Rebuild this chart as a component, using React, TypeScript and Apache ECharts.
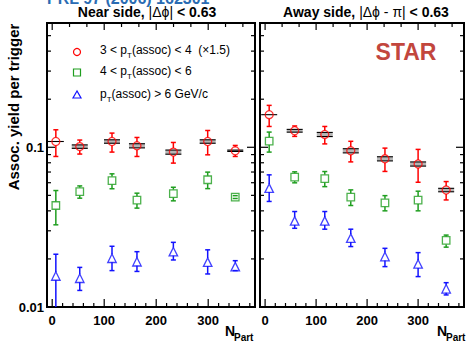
import React, { useEffect, useRef } from "react";
import * as echarts from "echarts";

// Centrality (N_part) of each bin, per panel
const nearNpart = [7, 53, 115, 163, 233, 299, 352];
const awayNpart = [8, 58, 117, 168, 235, 300, 355];

// Near side yields
const near34 = [0.1087, 0.101, 0.1087, 0.1022, 0.0933, 0.1087, 0.0951];
const near34Lo = [0.0876, 0.0907, 0.0933, 0.0876, 0.0796, 0.0897, 0.0876];
const near34Hi = [0.1287, 0.111, 0.1227, 0.1152, 0.1072, 0.1274, 0.1027];
const near34Sys = [0, 0.025, 0.025, 0.03, 0.03, 0.025, 0.01];

const near46 = [0.0432, 0.0528, 0.0619, 0.0467, 0.0513, 0.0626, 0.0488];
const near46Lo = [0.0327, 0.048, 0.055, 0.0416, 0.0462, 0.0551, 0.0478];
const near46Hi = [0.0536, 0.0573, 0.0682, 0.0516, 0.0562, 0.0699, 0.0498];

const near6 = [0.01564, 0.01514, 0.0202, 0.0192, 0.0222, 0.0191, 0.0179];
const near6Lo = [0.0098, 0.0127, 0.0169, 0.0167, 0.0197, 0.0161, 0.0169];
const near6Hi = [0.0214, 0.0177, 0.024, 0.0222, 0.0254, 0.0228, 0.0195];

// Away side yields
const away34 = [0.16, 0.1269, 0.1203, 0.0951, 0.0847, 0.0786, 0.054];
const away34Lo = [0.135, 0.117, 0.105, 0.081, 0.0706, 0.0604, 0.0468];
const away34Hi = [0.183, 0.136, 0.135, 0.109, 0.0988, 0.097, 0.061];
const away34Sys = [0, 0.02, 0.03, 0.03, 0.03, 0.03, 0.025];

const away46 = [0.1094, 0.065, 0.0637, 0.0487, 0.0449, 0.0467, 0.0261];
const away46Lo = [0.0933, 0.0599, 0.0567, 0.0432, 0.04, 0.04, 0.0237];
const away46Hi = [0.1245, 0.0702, 0.0705, 0.0541, 0.0498, 0.0531, 0.0282];

const away6 = [0.0555, 0.0346, 0.0346, 0.027, 0.0207, 0.0186, 0.013];
const away6Lo = [0.0458, 0.0311, 0.0307, 0.0239, 0.0179, 0.0155, 0.0119];
const away6Hi = [0.0672, 0.0396, 0.0396, 0.0307, 0.0233, 0.0219, 0.0142];

const xTickLabels = ["0", "100", "200", "300"];
const yTickLabels = ["0.01", "0.1"];

const RED = "#ff0000";
const GREEN = "#1f9e1f";
const BLUE = "#1212ff";
const FONT = "'Liberation Sans', Arial, Helvetica, sans-serif";

const X_MIN = -10;
const X_MAX = 390;
const Y_MIN = 0.01;
const Y_MAX = 0.6;

function markerSeries(g: number, xs: number[], ys: number[], symbol: string, size: number, color: string) {
  return {
    type: "scatter",
    xAxisIndex: g,
    yAxisIndex: g,
    silent: true,
    z: 5,
    symbol,
    symbolSize: size,
    itemStyle: { color: "rgba(0,0,0,0)", borderColor: color, borderWidth: 1.3 },
    data: xs.map((x, i) => [x, ys[i]]),
  };
}

function errorSeries(g: number, xs: number[], ys: number[], lo: number[], hi: number[], color: string, gap: number) {
  return {
    type: "custom",
    xAxisIndex: g,
    yAxisIndex: g,
    silent: true,
    clip: true,
    z: 4,
    data: xs.map((x, i) => [x, ys[i], lo[i], hi[i]]),
    renderItem: (_params: any, api: any) => {
      const x = api.value(0);
      const c = api.coord([x, api.value(1)]);
      const l = api.coord([x, api.value(2)]);
      const h = api.coord([x, api.value(3)]);
      const st = { stroke: color, lineWidth: 1.5 };
      const kids: any[] = [];
      if (h[1] < c[1] - gap) kids.push({ type: "line", shape: { x1: c[0], y1: h[1], x2: c[0], y2: c[1] - gap }, style: st });
      if (l[1] > c[1] + gap) kids.push({ type: "line", shape: { x1: c[0], y1: c[1] + gap, x2: c[0], y2: l[1] }, style: st });
      kids.push({ type: "line", shape: { x1: c[0] - 2.5, y1: h[1], x2: c[0] + 2.5, y2: h[1] }, style: st });
      kids.push({ type: "line", shape: { x1: c[0] - 2.5, y1: l[1], x2: c[0] + 2.5, y2: l[1] }, style: st });
      return { type: "group", children: kids };
    },
  };
}

function sysSeries(g: number, xs: number[], ys: number[], sys: number[]) {
  return {
    type: "custom",
    xAxisIndex: g,
    yAxisIndex: g,
    silent: true,
    clip: true,
    z: 3,
    data: xs.map((x, i) => [x, ys[i], sys[i]]),
    renderItem: (_params: any, api: any) => {
      const x = api.value(0);
      const v = api.value(1);
      const s = api.value(2);
      const top = api.coord([x, v * (1 + s)]);
      const bot = api.coord([x, v * (1 - s)]);
      const hw = 8;
      const line = { stroke: "#000", lineWidth: 1.1 };
      if (s === 0) {
        return { type: "line", shape: { x1: top[0] - hw, y1: top[1], x2: top[0] + hw, y2: top[1] }, style: line };
      }
      return {
        type: "group",
        children: [
          { type: "rect", shape: { x: top[0] - hw, y: top[1], width: hw * 2, height: bot[1] - top[1] }, style: { fill: "rgba(120,120,120,0.55)" } },
          { type: "line", shape: { x1: top[0] - hw, y1: top[1], x2: top[0] + hw, y2: top[1] }, style: line },
          { type: "line", shape: { x1: bot[0] - hw, y1: bot[1], x2: bot[0] + hw, y2: bot[1] }, style: line },
        ],
      };
    },
  };
}

// Frame ticks on all four sides of a panel
function tickSeries(g: number) {
  const yTicks: [number, boolean][] = [];
  for (const dec of [0.01, 0.1]) {
    for (let m = 1; m <= 9; m++) {
      const v = +(m * dec).toFixed(4);
      if (v <= Y_MAX + 1e-9) yTicks.push([v, m === 1]);
    }
  }
  const xBottom: [number, boolean][] = [];
  for (let v = 0; v <= 380; v += 20) xBottom.push([v, v % 100 === 0]);
  const xTop: [number, boolean][] = [];
  for (let k = 0; k * (100 / 3) <= X_MAX; k++) xTop.push([k * (100 / 3), k % 3 === 0]);
  return {
    type: "custom",
    xAxisIndex: g,
    yAxisIndex: g,
    silent: true,
    clip: false,
    z: 2,
    data: [[0, 0.1]],
    renderItem: (params: any, api: any) => {
      const cs = params.coordSys;
      const left = cs.x;
      const right = cs.x + cs.width;
      const topY = cs.y;
      const botY = cs.y + cs.height;
      const st = { stroke: "#000", lineWidth: 1.2 };
      const kids: any[] = [];
      for (const [v, major] of yTicks) {
        const y = api.coord([0, v])[1];
        const len = major ? 8 : 4;
        kids.push({ type: "line", shape: { x1: left, y1: y, x2: left + len, y2: y }, style: st });
        kids.push({ type: "line", shape: { x1: right, y1: y, x2: right - len, y2: y }, style: st });
      }
      for (const [v, major] of xBottom) {
        const x = api.coord([v, Y_MIN])[0];
        const len = major ? 8 : 4;
        kids.push({ type: "line", shape: { x1: x, y1: botY, x2: x, y2: botY - len }, style: st });
      }
      for (const [v, major] of xTop) {
        const x = api.coord([v, Y_MIN])[0];
        const len = major ? 7 : 4;
        kids.push({ type: "line", shape: { x1: x, y1: topY, x2: x, y2: topY + len }, style: st });
      }
      return { type: "group", children: kids };
    },
  };
}

function subLabel(text: string, sub: string, rest: string) {
  return `{n|${text}}{s|${sub}}{n|${rest}}`;
}

export default function App() {
  const ref = useRef<HTMLDivElement>(null);

  useEffect(() => {
    if (!ref.current) return;
    const chart = echarts.init(ref.current, undefined, { renderer: "svg" });

    const grids = [
      { left: 47, top: 23, width: 208, height: 284 },
      { left: 260, top: 23, width: 208, height: 284 },
    ].map((g) => ({ ...g, show: true, borderColor: "#000", borderWidth: 2, backgroundColor: "transparent" }));

    const xAxis = [0, 1].map((g) => ({
      type: "value",
      gridIndex: g,
      min: X_MIN,
      max: X_MAX,
      splitNumber: 4,
      axisLine: { show: false },
      axisTick: { show: false },
      splitLine: { show: false },
      axisLabel: {
        margin: 7,
        color: "#000",
        fontFamily: FONT,
        fontWeight: "bold",
        fontSize: 13,
        showMinLabel: true,
        showMaxLabel: true,
        formatter: (v: number) => {
          const s = String(Math.round(v));
          return Math.abs(v - Math.round(v)) < 1e-6 && xTickLabels.includes(s) ? s : "";
        },
      },
    }));

    const yAxis = [0, 1].map((g) => ({
      type: "log",
      logBase: 10,
      gridIndex: g,
      min: Y_MIN,
      max: Y_MAX,
      axisLine: { show: false },
      axisTick: { show: false },
      splitLine: { show: false },
      axisLabel: {
        show: g === 0,
        margin: 3,
        color: "#000",
        fontFamily: FONT,
        fontWeight: "bold",
        fontSize: 13,
        formatter: (v: number) => {
          const e = Math.log10(v);
          if (Math.abs(e - Math.round(e)) > 1e-6) return "";
          const idx = Math.round(e) + 2;
          return yTickLabels[idx] ?? "";
        },
      },
    }));

    const series: any[] = [
      tickSeries(0),
      tickSeries(1),
      sysSeries(0, nearNpart, near34, near34Sys),
      sysSeries(1, awayNpart, away34, away34Sys),
      errorSeries(0, nearNpart, near34, near34Lo, near34Hi, RED, 4),
      errorSeries(0, nearNpart, near46, near46Lo, near46Hi, GREEN, 4),
      errorSeries(0, nearNpart, near6, near6Lo, near6Hi, BLUE, 4),
      errorSeries(1, awayNpart, away34, away34Lo, away34Hi, RED, 4),
      errorSeries(1, awayNpart, away46, away46Lo, away46Hi, GREEN, 4),
      errorSeries(1, awayNpart, away6, away6Lo, away6Hi, BLUE, 4),
      markerSeries(0, nearNpart, near34, "circle", 8, RED),
      markerSeries(0, nearNpart, near46, "rect", 7.5, GREEN),
      markerSeries(0, nearNpart, near6, "triangle", 8.5, BLUE),
      markerSeries(1, awayNpart, away34, "circle", 8, RED),
      markerSeries(1, awayNpart, away46, "rect", 7.5, GREEN),
      markerSeries(1, awayNpart, away6, "triangle", 8.5, BLUE),
    ];

    const legendRich = {
      n: { fontSize: 12, lineHeight: 16, fontFamily: FONT, color: "#000" },
      s: { fontSize: 8, lineHeight: 8, padding: [11, 0, 0, 0], fontFamily: FONT, color: "#000" },
    };
    const titleRich = {
      b: { fontSize: 14, fontWeight: "bold", fontFamily: FONT, color: "#000" },
      g: { fontSize: 14, fontWeight: "normal", fontFamily: FONT, color: "#000" },
    };

    const graphic: any[] = [
      {
        type: "text",
        x: 47,
        y: -2,
        style: { text: "PRL 97 (2006) 162301", fill: "#2a6cb3", font: `bold 16px ${FONT}`, verticalAlign: "middle" },
      },
      {
        type: "text",
        x: 147,
        y: 12,
        style: { text: "{b|Near side, }{g||Δϕ|}{b| < 0.63}", rich: titleRich, align: "center", verticalAlign: "middle" },
      },
      {
        type: "text",
        x: 366,
        y: 12,
        style: { text: "{b|Away side, }{g||Δϕ - π|}{b| < 0.63}", rich: titleRich, align: "center", verticalAlign: "middle" },
      },
      {
        type: "text",
        x: 13,
        y: 107,
        rotation: Math.PI / 2,
        style: { text: "Assoc. yield per trigger", fill: "#000", font: `bold 15px ${FONT}`, align: "center", verticalAlign: "middle" },
      },
      { type: "text", x: 406, y: 52, style: { text: "STAR", fill: "#c2463d", font: `bold 23px ${FONT}`, align: "center", verticalAlign: "middle" } },
      { type: "text", x: 225, y: 331, style: { text: "N", fill: "#000", font: `bold 14px ${FONT}`, verticalAlign: "middle" } },
      { type: "text", x: 234, y: 337, style: { text: "Part", fill: "#000", font: `bold 10px ${FONT}`, verticalAlign: "middle" } },
      { type: "text", x: 437, y: 331, style: { text: "N", fill: "#000", font: `bold 14px ${FONT}`, verticalAlign: "middle" } },
      { type: "text", x: 446, y: 337, style: { text: "Part", fill: "#000", font: `bold 10px ${FONT}`, verticalAlign: "middle" } },
      // legend
      { type: "circle", shape: { cx: 77, cy: 52, r: 3.5 }, style: { fill: "none", stroke: RED, lineWidth: 1.2 } },
      { type: "rect", shape: { x: 73.5, y: 69, width: 7, height: 7 }, style: { fill: "none", stroke: GREEN, lineWidth: 1.2 } },
      { type: "polygon", shape: { points: [[77, 91], [73, 98], [81, 98]] }, style: { fill: "none", stroke: BLUE, lineWidth: 1.2 } },
      { type: "text", x: 100, y: 50, style: { text: subLabel("3 < p", "T", "(assoc) < 4  (×1.5)"), rich: legendRich, verticalAlign: "middle" } },
      { type: "text", x: 100, y: 71, style: { text: subLabel("4 < p", "T", "(assoc) < 6"), rich: legendRich, verticalAlign: "middle" } },
      { type: "text", x: 100, y: 93.5, style: { text: subLabel("p", "T", "(assoc) > 6 GeV/c"), rich: legendRich, verticalAlign: "middle" } },
    ];

    chart.setOption({
      animation: false,
      backgroundColor: "#fff",
      grid: grids,
      xAxis,
      yAxis,
      series,
      graphic,
    });

    return () => chart.dispose();
  }, []);

  return <div ref={ref} style={{ position: "fixed", left: 0, top: 0, width: 467, height: 342 }} />;
}
